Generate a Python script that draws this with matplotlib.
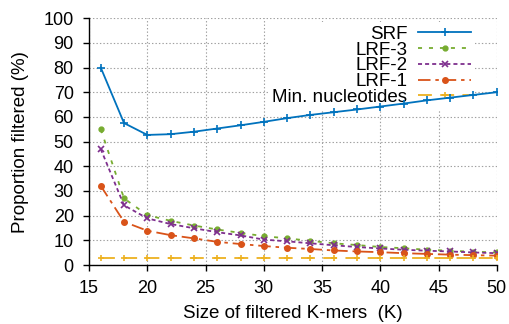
import numpy as np
import matplotlib
matplotlib.use("Agg")
import matplotlib.pyplot as plt

plt.rcParams['font.family'] = ['Liberation Sans', 'DejaVu Sans']
plt.rcParams['lines.scale_dashes'] = False

# data
k = [16, 18, 20, 22, 24, 26, 28, 30, 32, 34, 36, 38, 40, 42, 44, 46, 48, 50]
srf = [80, 57.5, 52.7, 53.0, 54.0, 55.3, 56.6, 58.0, 59.5, 60.8, 61.9, 63.0,
       64.2, 65.4, 66.7, 67.8, 68.9, 70.0]
lrf3 = [55, 27, 20.2, 17.9, 16.0, 14.4, 13.0, 11.7, 10.8, 9.8, 8.8, 8.1,
        7.3, 6.8, 6.2, 5.8, 5.4, 5.1]
lrf2 = [47, 24.2, 18.9, 16.6, 14.9, 13.3, 12.0, 10.3, 9.6, 8.8, 8.0, 7.3,
        6.7, 6.2, 5.8, 5.5, 5.1, 4.8]
lrf1 = [32.1, 17.5, 13.9, 12.1, 10.8, 9.4, 8.5, 7.7, 7.0, 6.5, 5.9, 5.5,
        5.2, 4.8, 4.5, 4.2, 4.0, 3.8]
min_nuc = [3.0] * len(k)

fig = plt.figure(figsize=(5.09, 3.24), dpi=100)
ax = fig.add_axes([0.175, 0.182, 0.801, 0.762])

lw = 1.3
ax.plot(k, srf, color='#0072bd', lw=lw, marker='+', ms=6, mew=1.2,
        label='SRF', zorder=6)
ax.plot(k, lrf3, color='#77ac30', lw=lw, marker='o', ms=3.5,
        dashes=(2.9, 5), label='LRF-3', zorder=3)
ax.plot(k, lrf2, color='#7e2f8e', lw=lw, marker='x', ms=5, mew=1.2,
        dashes=(2.9, 2.2), label='LRF-2', zorder=3)
ax.plot(k, lrf1, color='#d95319', lw=lw, marker='o', ms=4,
        dashes=(9, 3.5, 2.5, 3.5), label='LRF-1', zorder=3)
ax.plot(k, min_nuc, color='#edb120', lw=lw, marker='+', ms=5, mew=1.2,
        dashes=(10, 6), label='Min. nucleotides', zorder=3)

ax.set_xlim(15, 50)
ax.set_ylim(0, 100)
ax.set_xticks(np.arange(15, 51, 5))
ax.set_yticks(np.arange(0, 101, 10))
ax.grid(True, color='#a0a0a0', ls=(0, (1, 1.5)), lw=0.8)
ax.set_axisbelow(True)
for s in ['top', 'right']:
    ax.spines[s].set_visible(False)
for s in ['left', 'bottom']:
    ax.spines[s].set_linewidth(1.0)
ax.tick_params(direction='out', length=4, width=1.0, labelsize=13)
ax.tick_params(axis='x', pad=7)
ax.tick_params(axis='y', pad=7)

ax.set_xlabel('Size of filtered K-mers  (K)', fontsize=13.5, labelpad=5.5)
ax.set_ylabel('Proportion filtered (%)', fontsize=13.5)
ax.yaxis.set_label_coords(-0.148, 0.5)

leg = ax.legend(loc='upper right', bbox_to_anchor=(0.955, 1.0),
                fontsize=13.5, markerfirst=False, numpoints=1,
                handlelength=2.8, handletextpad=0.6, labelspacing=-0.07,
                frameon=True, framealpha=1, borderpad=0.2, borderaxespad=0.2)
leg.get_frame().set_edgecolor('none')
leg.set_zorder(5)

fig.savefig('out.png', dpi=100)
